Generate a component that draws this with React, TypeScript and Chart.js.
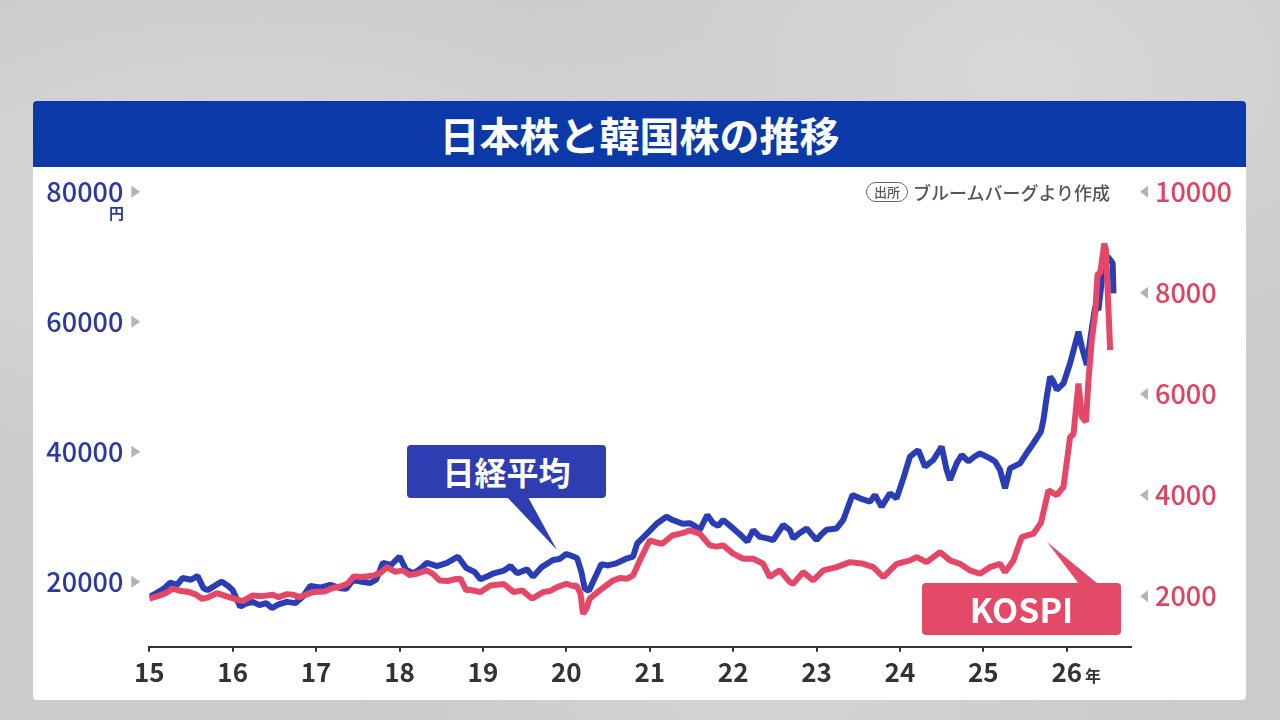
import React, { useEffect, useRef } from "react";
import { Chart, registerables } from "chart.js";

Chart.register(...registerables);

// ---- data (year as decimal: 15 = Jan 2015) ----
const nikkeiDates = [
  15.0, 15.08, 15.17, 15.25, 15.33, 15.4, 15.5, 15.58, 15.65, 15.7, 15.8, 15.87, 15.95,
  16.0, 16.09, 16.15, 16.24, 16.32, 16.4, 16.47, 16.55, 16.65, 16.75, 16.84, 16.93,
  17.05, 17.17, 17.29, 17.36, 17.44, 17.55, 17.65, 17.72, 17.8, 17.9,
  18.0, 18.08, 18.17, 18.25, 18.33, 18.45, 18.57, 18.7, 18.8, 18.9, 18.97,
  19.05, 19.13, 19.25, 19.33, 19.41, 19.53, 19.6, 19.7, 19.84, 19.92,
  20.0, 20.08, 20.13, 20.18, 20.22, 20.27, 20.32, 20.42, 20.5, 20.6, 20.73, 20.8, 20.85, 20.97,
  21.09, 21.2, 21.27, 21.33, 21.4, 21.48, 21.55, 21.6, 21.69, 21.76, 21.82, 21.88,
  22.0, 22.08, 22.17, 22.24, 22.32, 22.41, 22.48, 22.6, 22.68, 22.72, 22.8, 22.88,
  23.0, 23.06, 23.12, 23.24, 23.32, 23.43, 23.52, 23.64, 23.7, 23.78, 23.88, 23.96,
  24.04, 24.12, 24.22, 24.3, 24.4, 24.5, 24.56, 24.6, 24.68, 24.74, 24.82, 24.9, 24.96,
  25.08, 25.14, 25.2, 25.26, 25.32, 25.44, 25.53, 25.6, 25.69, 25.72, 25.76, 25.8, 25.84, 25.88, 25.96,
  26.04, 26.14, 26.18, 26.24, 26.28, 26.34, 26.38, 26.43, 26.49, 26.55, 26.56,
];
const nikkeiValues = [
  17650, 18200, 18900, 19850, 19500, 20570, 20300, 20880, 19000, 18700, 19500, 20000, 19300,
  18700, 16150, 16600, 16900, 16400, 16700, 15950, 16500, 16900, 16700, 17700, 19340,
  19100, 19500, 19000, 18900, 20250, 20000, 19800, 20300, 22900, 22600,
  23850, 21800, 21300, 22000, 22900, 22400, 22900, 23850, 22100, 21500, 20370,
  20800, 21290, 21700, 22400, 21290, 21900, 20770, 22200, 23340, 23500,
  24260, 23900, 23600, 21500, 18980, 18600, 20000, 22700, 22500, 22830, 23600, 23850, 25900, 27450,
  29000, 30000, 29500, 29230, 28900, 29000, 28500, 27950, 30260, 29000, 28600, 29500,
  28200, 27300, 26150, 27950, 26900, 26670, 26400, 28720, 27950, 26670, 27500, 28200,
  26400, 27300, 28000, 28200, 29500, 33340, 32830, 32300, 33340, 31540, 33600, 32830,
  35900, 39230, 40260, 37700, 38720, 40770, 37180, 35650, 38200, 39490, 38500, 39300, 39750,
  38970, 38500, 37180, 34370, 37440, 38200, 40000, 41300, 43080, 44880, 48460, 51540, 50800, 49500, 50500,
  53600, 58460, 56150, 53340, 57180, 62300, 61800, 67440, 70000, 69000, 64370,
];

const kospiDates = [
  15.0, 15.1, 15.2, 15.28, 15.38, 15.48, 15.56, 15.63, 15.7, 15.81, 15.92,
  16.05, 16.12, 16.24, 16.35, 16.48, 16.55, 16.65, 16.72, 16.8, 16.96,
  17.1, 17.2, 17.29, 17.38, 17.45, 17.55, 17.69, 17.78, 17.85, 17.95,
  18.04, 18.12, 18.2, 18.32, 18.4, 18.48, 18.58, 18.68, 18.73, 18.8, 18.84, 18.97,
  19.09, 19.25, 19.37, 19.47, 19.59, 19.72, 19.8, 19.89,
  20.0, 20.08, 20.12, 20.17, 20.2, 20.24, 20.28, 20.4, 20.56, 20.65, 20.73, 20.8, 20.9,
  21.0, 21.08, 21.15, 21.27, 21.4, 21.48, 21.6, 21.72, 21.8, 21.88,
  22.0, 22.12, 22.24, 22.36, 22.44, 22.5, 22.56, 22.68, 22.72, 22.84, 22.96,
  23.08, 23.24, 23.4, 23.56, 23.68, 23.8, 23.96,
  24.12, 24.2, 24.32, 24.48, 24.6, 24.72, 24.84, 24.96,
  25.08, 25.2, 25.26, 25.36, 25.46, 25.6, 25.69, 25.78, 25.88, 25.96,
  26.04, 26.08, 26.14, 26.18, 26.23, 26.26, 26.3, 26.34, 26.37, 26.4, 26.45, 26.47, 26.52,
];
const kospiValues = [
  1949, 2000, 2060, 2147, 2100, 2080, 2030, 1950, 1970, 2060, 2000,
  1930, 1900, 2014, 2000, 2027, 1980, 2040, 2030, 1980, 2080,
  2090, 2160, 2190, 2250, 2390, 2380, 2410, 2470, 2575, 2480,
  2510, 2420, 2440, 2510, 2440, 2310, 2300, 2340, 2345, 2113, 2127, 2080,
  2212, 2240, 2080, 2113, 1949, 2080, 2100, 2178,
  2245, 2200, 2212, 2050, 1650, 1750, 1950, 2113, 2310, 2360, 2345, 2410, 2772,
  3103, 3060, 3037, 3200, 3250, 3300, 3235, 3004, 2980, 3004,
  2840, 2740, 2740, 2640, 2376, 2450, 2509, 2277, 2245, 2475, 2310,
  2509, 2574, 2673, 2640, 2574, 2376, 2640,
  2707, 2772, 2673, 2871, 2707, 2640, 2509, 2443,
  2574, 2640, 2475, 2707, 3168, 3235, 3450, 4093, 4000, 4158,
  5149, 5200, 6206, 5545, 5450, 6271, 7063, 7590, 8384, 8384, 8978, 8845, 6865,
];

const yearTicks = [15, 16, 17, 18, 19, 20, 21, 22, 23, 24, 25, 26];
const leftTicks = [20000, 40000, 60000, 80000];
const rightTicks = [2000, 4000, 6000, 8000, 10000];

const BLUE_LINE = "#2b3db4";
const RED_LINE = "#e54866";
const BLUE_TEXT = "#2c3a9f";
const RED_TEXT = "#e0425f";
const FONT = "'Noto Sans CJK JP', 'Noto Sans', sans-serif";

const trianglePlugin = {
  id: "tickTriangles",
  afterDraw(chart: any) {
    const ctx = chart.ctx;
    const area = chart.chartArea;
    const yl = chart.scales.yL;
    const yr = chart.scales.yR;
    ctx.save();
    ctx.fillStyle = "#b4b4b4";
    leftTicks.forEach((v) => {
      const y = yl.getPixelForValue(v);
      ctx.beginPath();
      ctx.moveTo(area.left - 18, y - 6);
      ctx.lineTo(area.left - 9, y);
      ctx.lineTo(area.left - 18, y + 6);
      ctx.closePath();
      ctx.fill();
    });
    rightTicks.forEach((v) => {
      const y = yr.getPixelForValue(v);
      ctx.beginPath();
      ctx.moveTo(area.right + 17, y - 6);
      ctx.lineTo(area.right + 9, y);
      ctx.lineTo(area.right + 17, y + 6);
      ctx.closePath();
      ctx.fill();
    });
    ctx.restore();
  },
};

const noPad = (s: any) => {
  s.paddingTop = 0;
  s.paddingBottom = 0;
  s.paddingLeft = 0;
  s.paddingRight = 0;
};

function StockChart() {
  const ref = useRef<HTMLCanvasElement | null>(null);
  useEffect(() => {
    if (!ref.current) return;
    const chart = new Chart(ref.current, {
      type: "line",
      data: {
        datasets: [
          {
            label: "KOSPI",
            data: kospiDates.map((d, i) => ({ x: d, y: kospiValues[i] })),
            borderColor: RED_LINE,
            borderWidth: 6,
            pointRadius: 0,
            tension: 0,
            borderJoinStyle: "bevel",
            yAxisID: "yR",
            order: 0,
          },
          {
            label: "日経平均",
            data: nikkeiDates.map((d, i) => ({ x: d, y: nikkeiValues[i] })),
            borderColor: BLUE_LINE,
            borderWidth: 6,
            pointRadius: 0,
            tension: 0,
            borderJoinStyle: "bevel",
            yAxisID: "yL",
            order: 1,
          },
        ],
      },
      options: {
        animation: false,
        responsive: false,
        maintainAspectRatio: false,
        layout: { autoPadding: false, padding: { top: 24.7, left: 0, right: 0, bottom: 0 } },
        plugins: { legend: { display: false }, tooltip: { enabled: false } },
        scales: {
          x: {
            type: "linear",
            min: 15,
            max: 26.77,
            afterBuildTicks: (s: any) => {
              s.ticks = yearTicks.map((v) => ({ value: v }));
            },
            afterFit: (s: any) => {
              s.height = 53.3;
              noPad(s);
            },
            grid: {
              drawOnChartArea: false,
              drawTicks: true,
              tickLength: 5,
              color: "#333333",
              lineWidth: 2,
            },
            border: { display: true, color: "#333333", width: 2 },
            ticks: {
              color: "#333333",
              padding: 5,
              maxRotation: 0,
              autoSkip: false,
              font: { family: FONT, size: 26, weight: "bold" },
              callback: (v: any) => String(v),
            },
          },
          yL: {
            type: "linear",
            position: "left",
            min: 10000,
            max: 80000,
            afterBuildTicks: (s: any) => {
              s.ticks = leftTicks.map((v) => ({ value: v }));
            },
            afterFit: (s: any) => {
              s.width = 116.3;
              noPad(s);
            },
            grid: { display: false, drawTicks: false },
            border: { display: false },
            ticks: {
              color: BLUE_TEXT,
              padding: 26,
              font: { family: FONT, size: 27, weight: 500 },
              callback: (v: any) => String(v),
            },
          },
          yR: {
            type: "linear",
            position: "right",
            min: 1000,
            max: 10000,
            afterBuildTicks: (s: any) => {
              s.ticks = rightTicks.map((v) => ({ value: v }));
            },
            afterFit: (s: any) => {
              s.width = 115;
              noPad(s);
            },
            grid: { display: false, drawTicks: false },
            border: { display: false },
            ticks: {
              color: RED_TEXT,
              padding: 24,
              font: { family: FONT, size: 27, weight: 500 },
              callback: (v: any) => String(v),
            },
          },
        },
      },
      plugins: [trianglePlugin],
    } as any);
    return () => chart.destroy();
  }, []);
  return (
    <canvas
      ref={ref}
      width={1213}
      height={533}
      style={{ position: "absolute", left: 33, top: 167, width: 1213, height: 533 }}
    />
  );
}

export default function App() {
  return (
    <div
      style={{
        position: "fixed",
        left: 0,
        top: 0,
        width: 1280,
        height: 720,
        overflow: "hidden",
        fontFamily: FONT,
        background:
          "radial-gradient(ellipse at 20% 30%, #dadada 0%, rgba(218,218,218,0) 40%), radial-gradient(ellipse at 80% 10%, #d8d8d8 0%, rgba(216,216,216,0) 35%), radial-gradient(ellipse at 60% 90%, #d4d4d4 0%, rgba(212,212,212,0) 40%), #cbcbcb",
      }}
    >
      {/* card */}
      <div
        style={{
          position: "absolute",
          left: 33,
          top: 101,
          width: 1213,
          height: 599,
          background: "#ffffff",
          borderRadius: 4,
          overflow: "hidden",
        }}
      >
        <div
          style={{
            height: 66,
            background: "#0b3aa8",
            color: "#ffffff",
            fontWeight: 700,
            fontSize: 40,
            lineHeight: "66px",
            textAlign: "center",
            letterSpacing: 0,
          }}
        >
          日本株と韓国株の推移
        </div>
      </div>
      <StockChart />
      {/* unit */}
      <div
        style={{
          position: "absolute",
          left: 109,
          top: 203,
          fontSize: 15,
          fontWeight: 700,
          color: BLUE_TEXT,
          lineHeight: "20px",
        }}
      >
        円
      </div>
      <div
        style={{
          position: "absolute",
          left: 1085,
          top: 664,
          fontSize: 16,
          fontWeight: 700,
          color: "#333333",
          lineHeight: "22px",
        }}
      >
        年
      </div>
      {/* source */}
      <div
        style={{
          position: "absolute",
          left: 866,
          top: 181,
          display: "flex",
          alignItems: "center",
          color: "#555555",
        }}
      >
        <span
          style={{
            border: "1.5px solid #666666",
            borderRadius: 10,
            fontSize: 13,
            lineHeight: "18px",
            padding: "0 7px",
            fontWeight: 500,
          }}
        >
          出所
        </span>
        <span style={{ fontSize: 18, fontWeight: 500, marginLeft: 5, lineHeight: "22px" }}>
          ブルームバーグより作成
        </span>
      </div>
      {/* callout pointers */}
      <svg
        width={1280}
        height={720}
        style={{ position: "absolute", left: 0, top: 0, pointerEvents: "none" }}
      >
        <polygon points="507,497 528,497 557,550" fill="#2e3db2" />
        <polygon points="1079,584 1098,584 1047,542" fill="#e34a68" />
      </svg>
      {/* Nikkei label */}
      <div
        style={{
          position: "absolute",
          left: 407,
          top: 445,
          width: 199,
          height: 53,
          background: "#2e3db2",
          borderRadius: 4,
          color: "#ffffff",
          fontSize: 32,
          fontWeight: 700,
          lineHeight: "53px",
          textAlign: "center",
        }}
      >
        日経平均
      </div>
      {/* KOSPI label */}
      <div
        style={{
          position: "absolute",
          left: 922,
          top: 583,
          width: 199,
          height: 52,
          background: "#e34a68",
          borderRadius: 4,
          color: "#ffffff",
          fontSize: 34,
          fontWeight: 700,
          lineHeight: "52px",
          textAlign: "center",
        }}
      >
        KOSPI
      </div>
    </div>
  );
}
